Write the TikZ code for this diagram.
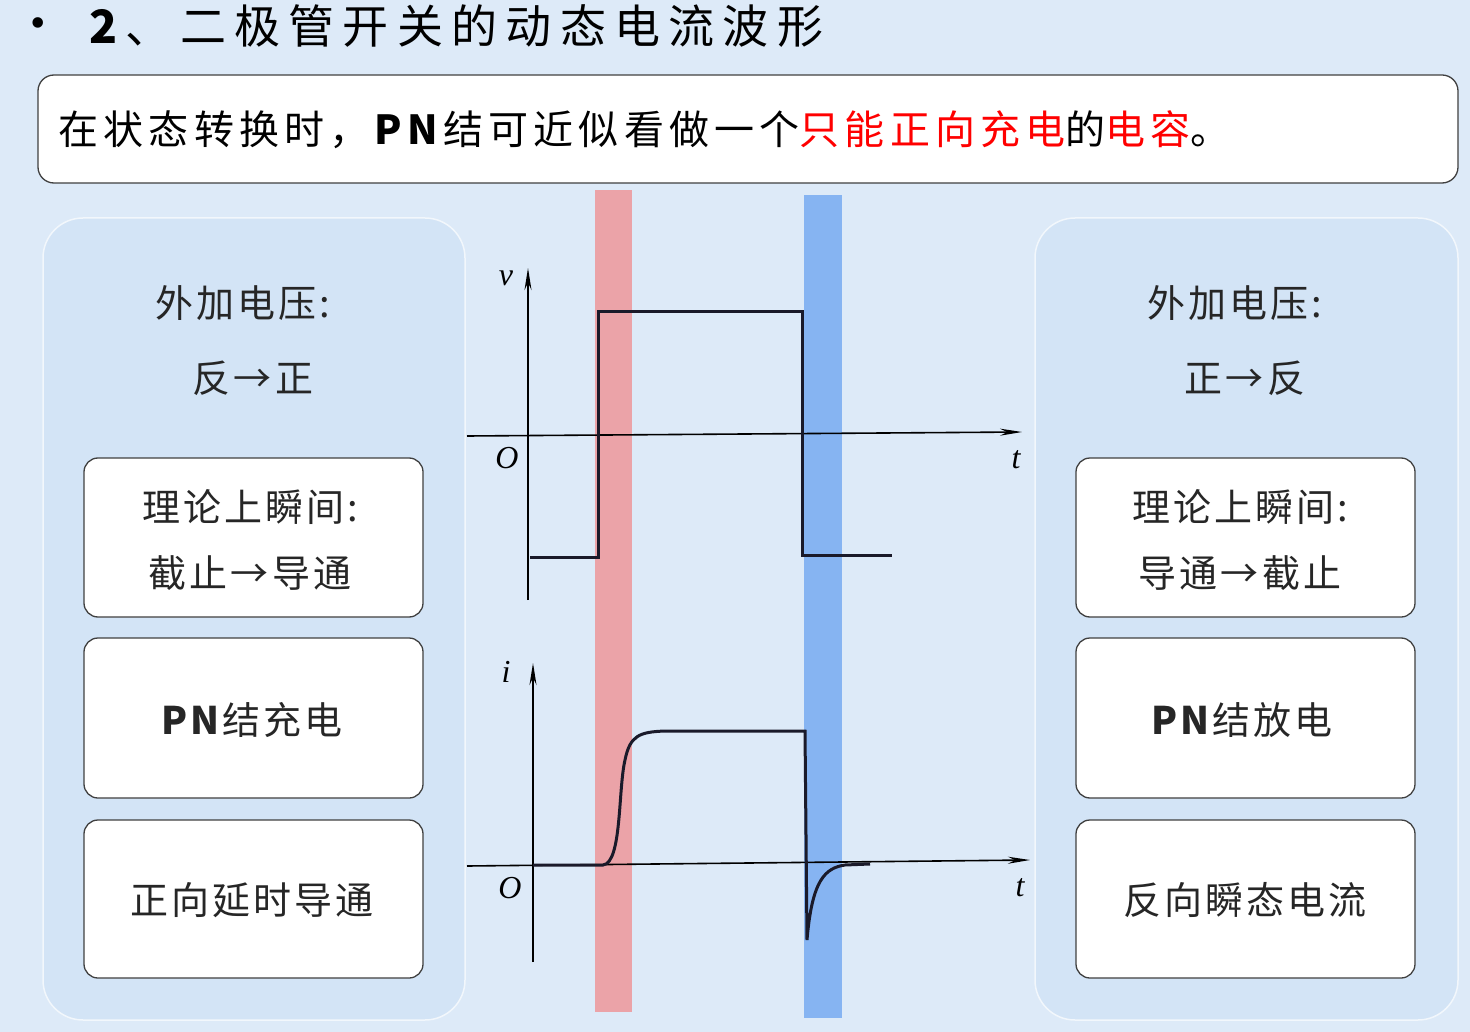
\documentclass[tikz,border=0pt]{standalone}
\usepackage{fontspec}
\setmainfont{Liberation Serif}
\newfontfamily\cjk[LetterSpace=8]{Noto Sans CJK SC}
\newfontfamily\cjkt[LetterSpace=18]{Noto Sans CJK SC}
\newfontfamily\cjkb[LetterSpace=13]{Noto Sans CJK SC}
\usetikzlibrary{arrows.meta}
\definecolor{bg}{HTML}{DDEAF8}
\definecolor{panel}{HTML}{D3E4F6}
\definecolor{redband}{HTML}{EBA3A8}
\definecolor{blueband}{HTML}{86B4F2}
\definecolor{wave}{HTML}{1A1A2A}
\tikzset{
  pnl/.style={draw=white!70!panel, line width=1.5pt, fill=panel, rounded corners=40pt},
  sbox/.style={draw=black!75, line width=1.3pt, fill=white, rounded corners=14pt},
  txt/.style={font=\cjk\fontsize{38}{44}\selectfont, text=black!85},
  ax/.style={line width=1.6pt, -{Stealth[length=22pt,width=7pt]}},
  lbl/.style={font=\itshape\fontsize{32}{36}\selectfont},
  wv/.style={line width=3pt, wave}
}
\begin{document}
\begin{tikzpicture}[x=1pt,y=-1pt]
\fill[bg] (0,0) rectangle (1470,1032);
\useasboundingbox (0,0) rectangle (1470,1032);
\node[font=\fontsize{44}{48}\selectfont] (bul) at (38,28) {•};
\node[anchor=west, font=\cjkt\fontsize{46}{50}\selectfont] (title) at (86,26) {\textbf{2}、二极管开关的动态电流波形};
\draw[sbox, rounded corners=16pt] (38,75) rectangle (1458,183);
\node[anchor=west, font=\cjkb\fontsize{40}{44}\selectfont] (tt) at (55,130) {在状态转换时，\textbf{PN}结可近似看做一个\textcolor{red}{只能正向充电}的\textcolor{red}{电容}。};
% panels
\draw[pnl] (43,218) rectangle (465,1020);
\draw[pnl] (1035,218) rectangle (1458,1020);
\node[txt] (l1) at (243,303) {外加电压:};
\node[txt] (l2) at (253,378) {反→正};
\node[txt] (r1) at (1235,303) {外加电压:};
\node[txt] (r2) at (1245,378) {正→反};
\draw[sbox] (84,458) rectangle (423,617);
\draw[sbox] (84,638) rectangle (423,798);
\draw[sbox] (84,820) rectangle (423,978);
\draw[sbox] (1076,458) rectangle (1415,617);
\draw[sbox] (1076,638) rectangle (1415,798);
\draw[sbox] (1076,820) rectangle (1415,978);
\node[txt, align=center] (lb1) at (250,540) {理论上瞬间:\\[22pt]截止→导通};
\node[txt] (lb2) at (252,720) {\textbf{PN}结充电};
\node[txt] (lb3) at (252,900) {正向延时导通};
\node[txt, align=center] (rb1) at (1240,540) {理论上瞬间:\\[22pt]导通→截止};
\node[txt] (rb2) at (1242,720) {\textbf{PN}结放电};
\node[txt] (rb3) at (1245,900) {反向瞬态电流};
% bands
\fill[redband] (595,190) rectangle (632,1012);
\fill[blueband] (804,195) rectangle (842,1018);
% upper axes
\coordinate (v0) at (528,600); \coordinate (v1) at (528,268);
\coordinate (t0) at (467,436); \coordinate (t1) at (1022,432);
\draw[ax] (v0) -- (v1);
\draw[ax] (t0) -- (t1);
\node[lbl] (vl) at (506,278) {v};
\node[lbl] (o1) at (507,458) {O};
\node[lbl] (tl1) at (1016,460) {t};
\draw[wv] (530,557) -- (598,557) -- (598,312) -- (802,312) -- (802,555) -- (892,555);
% lower axes
\coordinate (i0) at (533,962); \coordinate (i1) at (533,663);
\coordinate (s0) at (467,866); \coordinate (s1) at (1030,860);
\draw[ax] (i0) -- (i1);
\draw[ax] (s0) -- (s1);
\node[lbl] (il) at (506,672) {i};
\node[lbl] (o2) at (510,888) {O};
\node[lbl] (tl2) at (1020,888) {t};
\draw[wv] (533,865) -- (603,865) .. controls (622,863) and (618,790) .. (625,760) .. controls (630,735) and (640,732) .. (665,731) -- (805,731) -- (807,940) .. controls (812,880) and (825,868) .. (845,865) -- (870,864);
\end{tikzpicture}
\end{document}
